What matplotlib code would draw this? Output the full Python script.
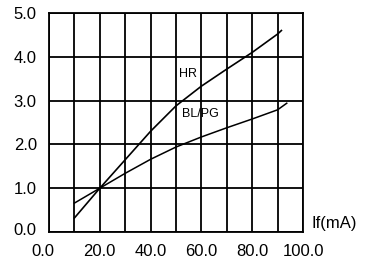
import matplotlib
matplotlib.use("Agg")
import matplotlib.pyplot as plt
from matplotlib.transforms import ScaledTranslation

hr_x = [10, 20, 30, 40, 50, 60, 70, 80, 90, 91.5]
hr_y = [0.32, 1.0, 1.65, 2.3, 2.88, 3.33, 3.72, 4.1, 4.52, 4.6]
bl_x = [10, 20, 30, 40, 50, 60, 70, 80, 90, 93.6]
bl_y = [0.66, 1.0, 1.34, 1.66, 1.94, 2.17, 2.38, 2.58, 2.79, 2.94]

x_ticks = [0, 10, 20, 30, 40, 50, 60, 70, 80, 90, 100]
x_labels = ["0.0", "", "20.0", "", "40.0", "", "60.0", "", "80.0", "", "100.0"]
y_ticks = [0, 1, 2, 3, 4, 5]
y_labels = ["0.0", "1.0", "2.0", "3.0", "4.0", "5.0"]

plt.rcParams['font.family'] = ['Liberation Sans', 'DejaVu Sans']

fig = plt.figure(figsize=(3.72, 2.65), dpi=100)
ax = fig.add_axes([49/372, 33/265, 254/372, 219/265])
ax.set_xlim(0, 100)
ax.set_ylim(0, 5)
ax.set_xticks(x_ticks)
ax.set_xticklabels(x_labels, fontsize=12)
ax.set_yticks(y_ticks)
ax.set_yticklabels(y_labels, fontsize=12)
ax.tick_params(length=0, pad=8.8)
ax.grid(True, color='black', linewidth=1.3)
for s in ax.spines.values():
    s.set_linewidth(1.3)
    s.set_color('black')

# shift first x label slightly left, and bottom y label slightly up, as in reference
lab0 = ax.get_xticklabels()[0]
lab0.set_transform(lab0.get_transform() + ScaledTranslation(-6/100, 0, fig.dpi_scale_trans))
ylab0 = ax.get_yticklabels()[0]
ylab0.set_transform(ylab0.get_transform() + ScaledTranslation(0, 3/100, fig.dpi_scale_trans))

ax.plot(hr_x, hr_y, color='black', linewidth=1.2, zorder=3)
ax.plot(bl_x, bl_y, color='black', linewidth=1.1, zorder=3)

ax.text(51.2, 3.61, "HR", fontsize=9, ha='left', va='center')
ax.text(52.4, 2.70, "BL/PG", fontsize=9, ha='left', va='center')
ax.text(103.5, 0.2, "If(mA)", fontsize=12, ha='left', va='center', clip_on=False)

fig.savefig("out.png", dpi=100)
